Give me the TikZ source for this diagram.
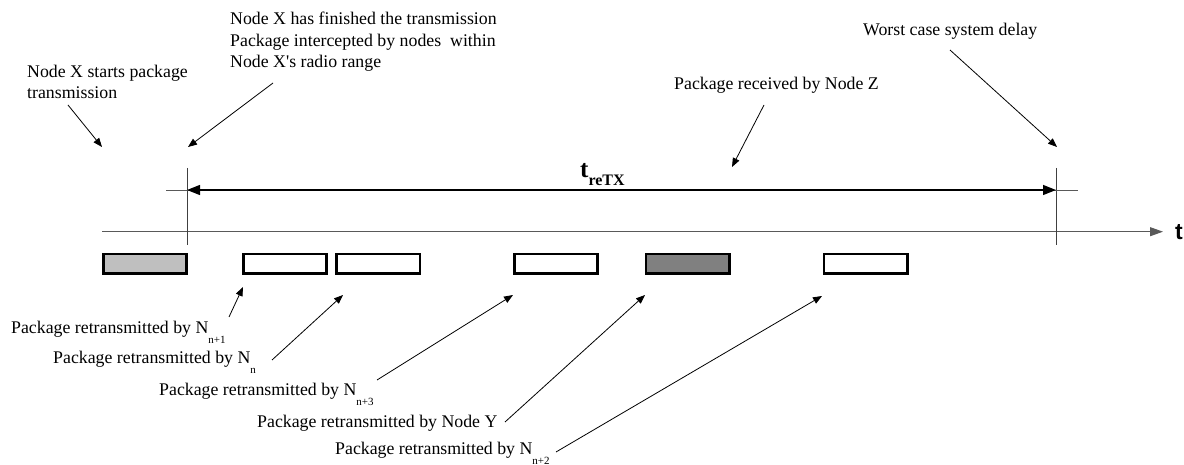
\documentclass[tikz,border=0pt]{standalone}
\usepackage{fontspec}
\setmainfont{Liberation Serif}
\newfontfamily\axisfont{Liberation Sans}
\usetikzlibrary{arrows.meta}
\begin{document}
\begin{tikzpicture}[x=1pt,y=-1pt,
  lbl/.style={inner sep=0pt, anchor=base west, align=left,
    font=\fontsize{17.8}{21.7}\selectfont},
  pkt/.style={draw=black, line width=2.7pt, minimum width=83.3pt,
    minimum height=19.6pt, inner sep=0pt},
  ptr/.style={draw=black, line width=0.8pt,
    -{Triangle[length=9pt,width=7pt]}},
  tick/.style={draw=black!75, line width=0.9pt}]
\useasboundingbox (0,0) rectangle (1184,465);
\newcommand{\sbx}[1]{\raisebox{-10pt}{\fontsize{11}{11}\selectfont #1}}

% texts (multi-line nodes: base = last line)
\node[lbl] (t1) at (27,99) {Node X starts package\\transmission};
\node[lbl] (t2) at (230,68) {Node X has finished the transmission\\Package intercepted by nodes\ \ within\\Node X\textquotesingle s radio range};
\node[lbl] (t3) at (674,90) {Package received by Node Z};
\node[lbl] (t4) at (863,36) {Worst case system delay};
\node[lbl] (l1) at (11,333) {Package retransmitted by N\sbx{n+1}};
\node[lbl] (l2) at (53,363) {Package retransmitted by N\sbx{n}};
\node[lbl] (l3) at (159,395) {Package retransmitted by N\sbx{n+3}};
\node[lbl] (l4) at (257,427) {Package retransmitted by Node Y};
\node[lbl] (l5) at (335,454) {Package retransmitted by N\sbx{n+2}};

% time axis
\coordinate (ax0) at (102,231.7);
\coordinate (ax1) at (1163,231.7);
\draw[draw=black!65, line width=0.9pt, -{Triangle[length=13pt,width=9pt]}] (ax0) -- (ax1);
\node[inner sep=0pt, anchor=base west, font=\axisfont\bfseries\fontsize{23}{23}\selectfont] (tl) at (1175,240) {t};

% ticks
\coordinate (k1a) at (187,168); \coordinate (k1b) at (187,245);
\coordinate (k2a) at (1056,168); \coordinate (k2b) at (1056,245);
\draw[tick] (k1a) -- (k1b);
\draw[tick] (k2a) -- (k2b);

% measurement
\coordinate (m0) at (166,190); \coordinate (m1) at (1078,190);
\coordinate (ma) at (187,190); \coordinate (mb) at (1056,190);
\draw[draw=black!65, line width=0.8pt] (m0) -- (m1);
\draw[draw=black, line width=1.4pt, {Triangle[length=13pt,width=10pt]}-{Triangle[length=13pt,width=10pt]}] (ma) -- (mb);
\node[inner sep=0pt, anchor=base west] (tr) at (580,178) {\fontsize{25}{25}\selectfont\bfseries t\raisebox{-8pt}{\fontsize{16}{16}\selectfont\bfseries reTX}};

% packets
\node[pkt, fill=black!25] (b1) at (145,263.8) {};
\node[pkt, fill=white] (b2) at (284.8,263.8) {};
\node[pkt, fill=white] (b3) at (378.3,263.8) {};
\node[pkt, fill=white] (b4) at (555.8,263.8) {};
\node[pkt, fill=black!50] (b5) at (687.5,263.8) {};
\node[pkt, fill=white] (b6) at (865.5,263.8) {};

% pointer arrows
\coordinate (a1s) at (68,105);  \coordinate (a1e) at (102,147);
\coordinate (a2s) at (273,83);  \coordinate (a2e) at (188,147);
\coordinate (a3s) at (764,105); \coordinate (a3e) at (732,167);
\coordinate (a4s) at (950,50);  \coordinate (a4e) at (1057,147);
\coordinate (p1s) at (229,317); \coordinate (p1e) at (243,287);
\coordinate (p2s) at (272,360); \coordinate (p2e) at (343,295);
\coordinate (p3s) at (377,380); \coordinate (p3e) at (513,295);
\coordinate (p4s) at (505,422); \coordinate (p4e) at (645,295);
\coordinate (p5s) at (556,452); \coordinate (p5e) at (822,296);
\draw[ptr] (a1s) -- (a1e);
\draw[ptr] (a2s) -- (a2e);
\draw[ptr] (a3s) -- (a3e);
\draw[ptr] (a4s) -- (a4e);
\draw[ptr] (p1s) -- (p1e);
\draw[ptr] (p2s) -- (p2e);
\draw[ptr] (p3s) -- (p3e);
\draw[ptr] (p4s) -- (p4e);
\draw[ptr] (p5s) -- (p5e);
\end{tikzpicture}
\end{document}
